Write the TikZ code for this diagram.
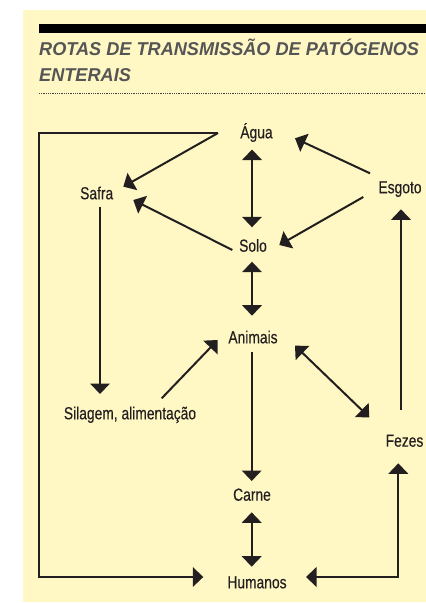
\documentclass[tikz,border=0pt]{standalone}
\usepackage{fontspec}
\setmainfont{Liberation Sans}[FakeStretch=0.79,FakeBold=0.25]
\newfontfamily\titlefont{Liberation Sans}[FakeStretch=0.975]
\usetikzlibrary{arrows.meta}
\definecolor{panel}{RGB}{255,248,196}
\definecolor{ink}{RGB}{35,31,32}
\definecolor{headgray}{RGB}{85,85,85}

\begin{document}
\begin{tikzpicture}[x=1pt,y=-1pt,
  lbl/.style={anchor=base,inner sep=0pt,text=ink,font=\fontsize{17.5}{20}\selectfont},
  head/.style={anchor=base west,inner sep=0pt,text=headgray,font=\titlefont\bfseries\itshape\fontsize{18.6}{22}\selectfont},
  arr/.style={-{Triangle[width=19.5pt,length=10.5pt]},line width=2pt,ink},
  dbl/.style={{Triangle[width=19.5pt,length=10.5pt]}-{Triangle[width=19.5pt,length=10.5pt]},line width=2pt,ink}]

\useasboundingbox (0,0) rectangle (426,603);
\fill[panel] (23,10) rectangle (426,602);
\fill[black] (39,24) rectangle (426,33);
\node[head] (title) at (39,55) {ROTAS DE TRANSMISSÃO DE PATÓGENOS};
\node[head] (title2) at (39,81.5) {ENTERAIS};
\draw[black!75,line width=0.9pt,dash pattern=on 0.9pt off 0.9pt] (39,93) -- (426,93);

% labels
\node[lbl] (agua) at (256.5,138.3) {Água};
\node[lbl] (safra) at (96.7,199.3) {Safra};
\node[lbl] (esgoto) at (400,193.3) {Esgoto};
\node[lbl] (solo) at (253,251.7) {Solo};
\node[lbl] (animais) at (253,343.3) {Animais};
\node[lbl] (silagem) at (130,419.3) {Silagem, alimentação};
\node[lbl] (fezes) at (404.5,446.7) {Fezes};
\node[lbl] (carne) at (252,500.7) {Carne};
\node[lbl] (humanos) at (257,588.3) {Humanos};

% routes
\draw[arr] ([shift={(-38.5,-5.3)}]agua.base) -- ++(-179.5,0) |- ([shift={(-53.7,-11.3)}]humanos.base);
\draw[arr] ([shift={(-38.5,-5.3)}]agua.base) -- ([shift={(26.6,-12.6)}]safra.base);
\draw[dbl] ([shift={(-4.5,11.2)}]agua.base) -- ([shift={(-1,-24.4)}]solo.base);
\draw[arr] ([shift={(-30,-20)}]esgoto.base) -- ([shift={(38.5,0)}]agua.base);
\draw[arr] ([shift={(-36.7,3.7)}]esgoto.base) -- ([shift={(26.3,-6.7)}]solo.base);
\draw[arr] ([shift={(-20.7,-1.7)}]solo.base) -- ([shift={(36.6,0.7)}]safra.base);
\draw[arr] ([shift={(3.3,7.4)}]safra.base) -- ([shift={(-30,-25.3)}]silagem.base);
\draw[dbl] ([shift={(-1,10)}]solo.base) -- ([shift={(-1,-27.6)}]animais.base);
\draw[arr] ([shift={(31.7,-21)}]silagem.base) -- ([shift={(-35.3,-3.3)}]animais.base);
\draw[arr] ([shift={(-1.3,8.4)}]animais.base) -- ([shift={(-0.3,-19.7)}]carne.base);
\draw[dbl] ([shift={(42,2.4)}]animais.base) -- ([shift={(-35.2,-29.4)}]fezes.base);
\draw[arr] ([shift={(-3.5,-36.7)}]fezes.base) -- ([shift={(1,16)}]esgoto.base);
\draw[dbl] ([shift={(-0.3,11.6)}]carne.base) -- ([shift={(-5.3,-21.6)}]humanos.base);
\draw[dbl] ([shift={(-6.2,16.6)}]fezes.base) |- ([shift={(49,-11.3)}]humanos.base);

\end{tikzpicture}
\end{document}
